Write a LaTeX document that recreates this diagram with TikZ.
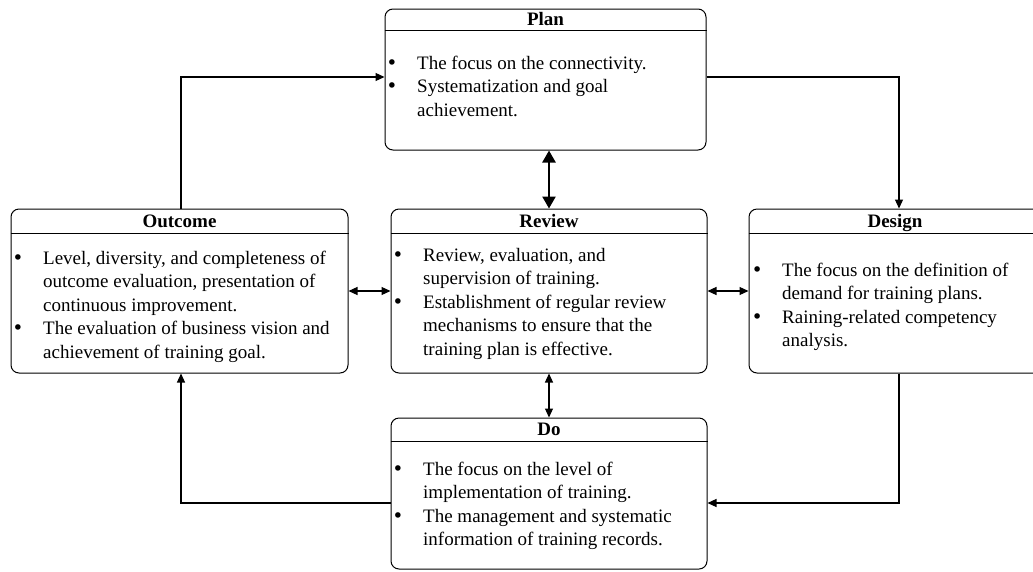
\documentclass[tikz,border=0pt]{standalone}
\usepackage{fontspec}
\setmainfont{Liberation Serif}
\newfontfamily\bulfont{DejaVu Sans}
\usetikzlibrary{arrows.meta}
\newcommand\bul{\llap{{\bulfont •}\hspace{19.5pt}}\rule{0pt}{14pt}}
\tikzset{
  box/.style={draw, rounded corners=8pt, line width=1pt, inner sep=0pt},
  ttl/.style={anchor=base, inner sep=0pt, font=\bfseries\fontsize{19}{23}\selectfont},
  body/.style={anchor=north west, align=left, inner sep=0pt, font=\fontsize{19}{23.5}\selectfont},
  conn/.style={line width=1.2pt, -{Triangle[length=9pt,width=8pt]}},
  dbl/.style={line width=1.2pt, {Triangle[length=9pt,width=8pt]}-{Triangle[length=9pt,width=8pt]}},
  dblthick/.style={line width=2.4pt, {Triangle[length=12pt,width=13pt]}-{Triangle[length=12pt,width=13pt]}}
}
\begin{document}
\begin{tikzpicture}[x=1pt, y=-1pt]
\useasboundingbox (0,0) rectangle (1033,571);
\fill[white] (0,0) rectangle (1033,571);
\clip (0,0) rectangle (1033,571);

% boxes
\node[box, minimum width=321pt, minimum height=141pt] (plan) at (545.5,79.5) {};
\node[box, minimum width=337pt, minimum height=164pt] (outcome) at (179.5,291) {};
\node[box, minimum width=316pt, minimum height=164pt] (review) at (549,291) {};
\node[box, minimum width=292pt, minimum height=164pt] (design) at (895,291) {};
\node[box, minimum width=316pt, minimum height=151pt] (do) at (549,493.5) {};

% separators
\draw[line width=1pt] (plan.west |- 0,30) -- (plan.east |- 0,30);
\draw[line width=1pt] (outcome.west |- 0,233) -- (outcome.east |- 0,233);
\draw[line width=1pt] (review.west |- 0,233) -- (review.east |- 0,233);
\draw[line width=1pt] (design.west |- 0,233) -- (design.east |- 0,233);
\draw[line width=1pt] (do.west |- 0,441) -- (do.east |- 0,441);

% titles
\node[ttl] (plant) at (545.5,25) {Plan};
\node[ttl] (outcomet) at (179.5,227.5) {Outcome};
\node[ttl] (reviewt) at (549,227.5) {Review};
\node[ttl] (designt) at (895,227.5) {Design};
\node[ttl] (dot) at (549,435.5) {Do};

% bodies
\node[body] (planb) at (417,55) {\bul The focus on the connectivity.\\
\bul Systematization and goal\\
achievement.};
\node[body] (outcomeb) at (43,250) {\bul Level, diversity, and completeness of\\
outcome evaluation, presentation of\\
continuous improvement.\\
\bul The evaluation of business vision and\\
achievement of training goal.};
\node[body] (reviewb) at (423,247) {\bul Review, evaluation, and\\
supervision of training.\\
\bul Establishment of regular review\\
mechanisms to ensure that the\\
training plan is effective.};
\node[body] (designb) at (782,262) {\bul The focus on the definition of\\
demand for training plans.\\
\bul Raining-related competency\\
analysis.};
\node[body] (dob) at (423,461) {\bul The focus on the level of\\
implementation of training.\\
\bul The management and systematic\\
information of training records.};

% cycle connectors
\draw[conn] ([xshift=1.5pt]outcome.north) |- ([yshift=2.5pt]plan.west);
\draw[conn] ([yshift=2.5pt]plan.east) -| ([xshift=4pt]design.north);
\draw[conn] ([xshift=4pt]design.south) |- ([yshift=-9.5pt]do.east);
\draw[conn] ([yshift=-9.5pt]do.west) -| ([xshift=1.5pt]outcome.south);

% review links
\draw[dblthick] (review.north |- plan.south) -- (review.north);
\draw[dbl] (outcome.east) -- (review.west);
\draw[dbl] (review.east) -- (design.west);
\draw[dbl] (review.south) -- (do.north);
\end{tikzpicture}
\end{document}
